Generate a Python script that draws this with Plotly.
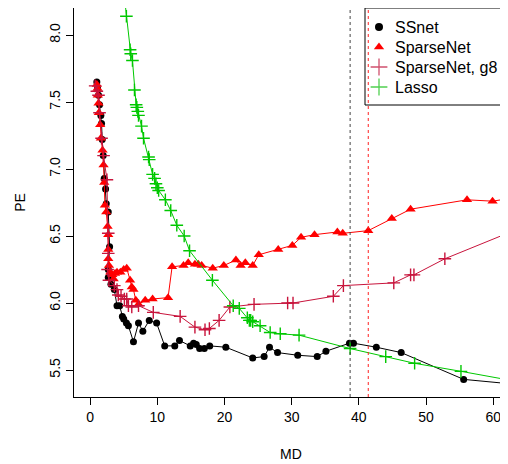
import plotly.graph_objects as go

# SSnet
ss_md = [1.0, 1.1, 1.25, 1.4, 1.6, 1.7, 1.8, 1.95, 2.1, 2.3, 2.4, 2.7, 2.9, 2.7, 2.7, 3.1, 3.6, 4.0, 4.4, 4.8,
         5.0, 5.4, 5.7, 6.45, 7.2, 7.85, 8.8, 9.9, 11.1, 12.6, 13.3, 14.9, 15.4, 15.8, 16.3, 17.0, 17.8,
         20.2, 24.2, 25.9, 26.7, 27.9, 30.9, 33.8, 35.1, 38.6, 39.2, 42.6, 46.3, 55.6, 64.0]
ss_pe = [7.65, 7.60, 7.55, 7.48, 7.40, 7.34, 7.22, 7.10, 6.93, 6.85, 6.74, 6.68, 6.42, 6.25, 6.19, 6.14, 6.10,
         5.98, 5.98, 5.90, 5.88, 5.85, 5.83, 5.71, 5.85, 5.79, 5.87, 5.85, 5.68, 5.68, 5.72, 5.68, 5.70,
         5.69, 5.66, 5.66, 5.68, 5.67, 5.59, 5.60, 5.67, 5.63, 5.61, 5.60, 5.64, 5.70, 5.70, 5.67, 5.63,
         5.43, 5.39]

# SparseNet
sp_md = [1.0, 1.1, 1.15, 1.25, 1.3, 1.5, 1.6, 1.85, 2.0, 2.1, 2.2, 2.4, 2.6, 2.7, 2.7, 2.7, 2.8, 3.0, 3.3,
         3.5, 3.7, 4.0, 4.5, 5.0, 5.45, 5.95, 6.2, 6.45, 6.8, 7.2, 8.2, 9.3, 11.6, 12.2, 13.9, 14.6, 15.6,
         16.1, 16.6, 18.25, 19.9, 21.7, 22.4, 23.1, 24.2, 25.1, 28.0, 30.1, 31.4, 33.4, 36.8, 37.6, 41.4,
         44.9, 47.7, 56.1, 59.9, 65.0]
sp_pe = [7.63, 7.60, 7.55, 7.49, 7.42, 7.33, 7.23, 7.14, 7.03, 6.90, 6.73, 6.68, 6.57, 6.51, 6.40, 6.33,
         6.28, 6.23, 6.21, 6.18, 6.22, 6.23, 6.23, 6.25, 6.26, 6.17, 6.12, 6.10, 6.02, 5.99, 6.02, 6.03,
         6.04, 6.27, 6.28, 6.30, 6.29, 6.29, 6.28, 6.26, 6.28, 6.32, 6.28, 6.30, 6.28, 6.36, 6.40, 6.43,
         6.49, 6.51, 6.53, 6.52, 6.54, 6.63, 6.70, 6.77, 6.76, 6.80]

# SparseNet, g8
g8_md = [0.75, 1.0, 1.25, 1.4, 1.7, 2.0, 2.5, 2.7, 2.7, 2.6, 2.8, 3.6, 4.0, 4.2, 4.6, 5.1, 5.45, 5.7, 6.2,
         7.2, 9.4, 13.4, 15.6, 17.1, 17.75, 19.2, 20.8, 24.4, 29.4, 30.2, 36.2, 37.7, 45.2, 47.7, 48.2,
         52.8, 62.1]
g8_pe = [7.62, 7.58, 7.55, 7.42, 7.23, 7.10, 6.92, 6.52, 6.37, 6.25, 6.17, 6.13, 6.10, 6.06, 6.05, 6.03,
         6.03, 5.98, 5.97, 5.98, 5.93, 5.90, 5.82, 5.80, 5.81, 5.87, 5.97, 5.99, 6.00, 6.00, 6.05, 6.13,
         6.15, 6.21, 6.21, 6.33, 6.52]

# Lasso
la_md = [4.95, 5.4, 5.95, 6.05, 6.3, 6.6, 6.85, 6.95, 7.1, 7.2, 7.65, 7.95, 8.7, 8.8, 9.3, 9.6, 9.8, 10.0,
         10.2, 11.2, 12.0, 12.9, 14.0, 14.8, 18.2, 21.3, 22.2, 23.4, 23.7, 23.9, 24.2, 25.3, 26.8, 28.3,
         31.1, 38.7, 44.0, 48.3, 55.2, 64.0]
la_pe = [8.35, 8.14, 7.89, 7.86, 7.81, 7.59, 7.48, 7.46, 7.43, 7.40, 7.32, 7.23, 7.09, 7.07, 6.96, 6.93,
         6.89, 6.86, 6.84, 6.77, 6.69, 6.58, 6.50, 6.39, 6.17, 5.98, 5.96, 5.89, 5.87, 5.87, 5.86, 5.83,
         5.78, 5.77, 5.76, 5.66, 5.60, 5.55, 5.49, 5.41]

# vertical reference lines (MD)
vline_md = [38.7, 41.4]
vline_colors = ["#444444", "#FF2020"]

x_ticks = [0, 10, 20, 30, 40, 50, 60]
y_ticks = [5.5, 6.0, 6.5, 7.0, 7.5, 8.0]
y_ticktext = ["5.5", "6.0", "6.5", "7.0", "7.5", "8.0"]

legend_names = ["SSnet", "SparseNet", "SparseNet, g8", "Lasso"]
legend_colors = ["black", "#FF0000", "#D0506E", "#50D050"]
legend_symbols = ["circle", "triangle-up", "cross-thin", "cross-thin"]

FONT = "Liberation Sans, Arial, Helvetica, sans-serif"
OFF = 8  # page body margin
W, H = 500, 456
ML, MR, MT, MB = 66, 0, 0, 67
PW, PH = W - ML - MR, H - MT - MB


def px_x(p):
    return (p - OFF - ML) / PW


def px_y(p):
    return 1 - (p - OFF - MT) / PH


fig = go.Figure()
fig.add_trace(go.Scatter(x=ss_md, y=ss_pe, mode="lines+markers", name="SSnet",
                         line=dict(color="black", width=1),
                         marker=dict(symbol="circle", size=7, color="black")))
fig.add_trace(go.Scatter(x=sp_md, y=sp_pe, mode="lines+markers", name="SparseNet",
                         line=dict(color="#FF0000", width=1),
                         marker=dict(symbol="triangle-up", size=9, color="#FF0000")))
fig.add_trace(go.Scatter(x=g8_md, y=g8_pe, mode="lines+markers", name="SparseNet, g8",
                         line=dict(color="#C8143C", width=1),
                         marker=dict(symbol="cross-thin", size=9, color="#C8143C",
                                     line=dict(color="#C8143C", width=1.4))))
fig.add_trace(go.Scatter(x=la_md, y=la_pe, mode="lines+markers", name="Lasso",
                         line=dict(color="#00C800", width=1),
                         marker=dict(symbol="cross-thin", size=9, color="#00C800",
                                     line=dict(color="#00C800", width=1.4))))

# legend symbols on an overlay axis in paper-like units
leg_rows = [27, 47, 67, 87]
for name, c, s, r in zip(legend_names, legend_colors, legend_symbols, leg_rows):
    mk = dict(symbol=s, size=9, color=c)
    if s == "cross-thin":
        mk["size"] = 12
        mk["line"] = dict(color=c, width=1.3)
    if s == "circle":
        mk["size"] = 8
    fig.add_trace(go.Scatter(x=[px_x(379)], y=[px_y(r)], mode="markers", xaxis="x2", yaxis="y2",
                             marker=mk, showlegend=False, hoverinfo="skip", cliponaxis=False))
    fig.add_annotation(xref="paper", yref="paper", x=px_x(393), y=px_y(r), text=name,
                       showarrow=False, xanchor="left", yanchor="middle",
                       font=dict(size=16, family=FONT, color="black"))

# legend box
fig.add_shape(type="rect", xref="paper", yref="paper", x0=px_x(365), x1=1.2, y0=px_y(105), y1=1,
              line=dict(color="black", width=1), fillcolor="rgba(0,0,0,0)", layer="above")

for xv, c in zip(vline_md, vline_colors):
    fig.add_shape(type="line", xref="x", yref="paper", x0=xv, x1=xv, y0=0, y1=1,
                  line=dict(color=c, width=1, dash="dot"), layer="above")

fig.update_layout(
    width=W, height=H,
    margin=dict(l=ML, r=MR, t=MT, b=MB),
    paper_bgcolor="white", plot_bgcolor="white",
    font=dict(family=FONT, size=14, color="black"),
    showlegend=False,
    xaxis=dict(range=[-2.4, 62.2], tickvals=x_ticks, showgrid=False, zeroline=False,
               showline=True, linecolor="black", linewidth=1, mirror=True, automargin=False,
               ticks="outside", ticklen=7, tickcolor="black",
               title=dict(text="MD", standoff=25, font=dict(size=14))),
    yaxis=dict(range=[5.2985, 8.2015], tickvals=y_ticks, ticktext=y_ticktext, tickangle=-90,
               showgrid=False, zeroline=False, automargin=False,
               showline=True, linecolor="black", linewidth=1,
               ticks="outside", ticklen=7, tickcolor="black",
               title=dict(text="PE", standoff=18, font=dict(size=14))),
    xaxis2=dict(overlaying="x", range=[0, 1], visible=False, fixedrange=True),
    yaxis2=dict(overlaying="y", range=[0, 1], visible=False, fixedrange=True),
)

fig.write_html("out.html")
